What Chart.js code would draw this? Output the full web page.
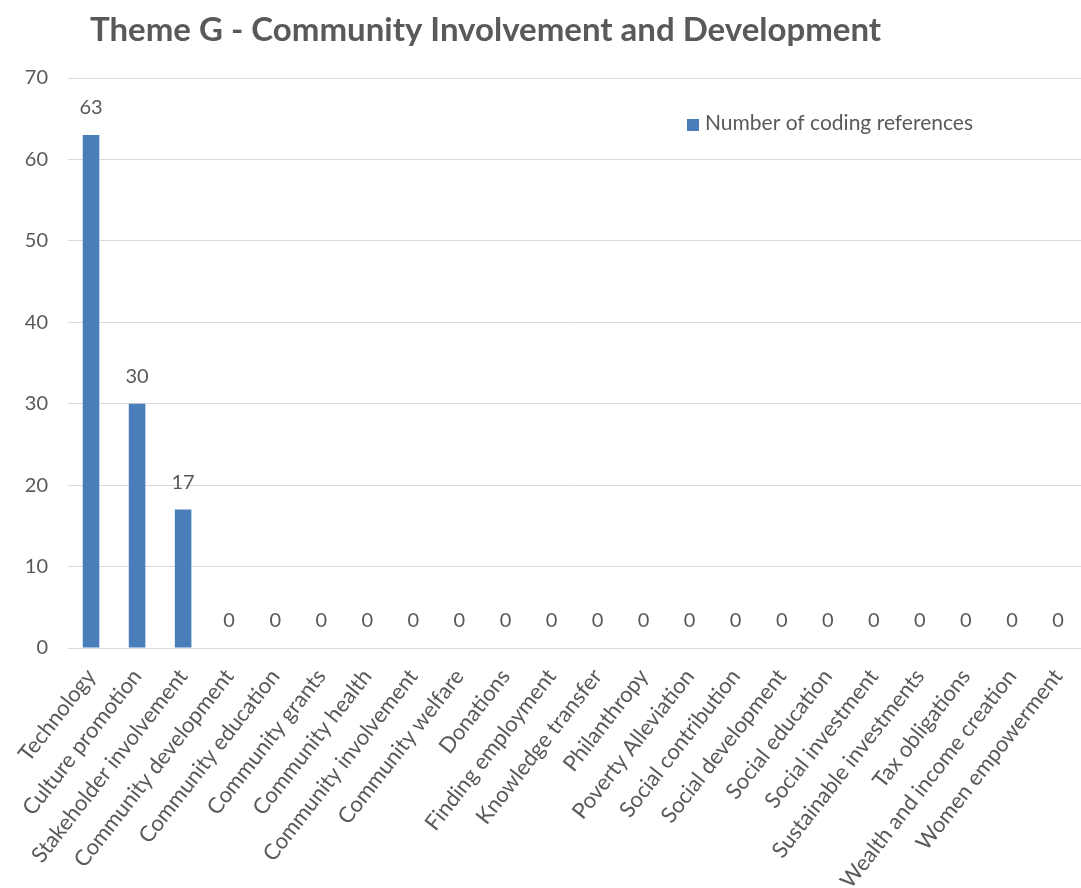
<!DOCTYPE html>
<html>
<head>
<meta charset="utf-8">
<title>Theme G - Community Involvement and Development</title>
<script src="https://cdn.jsdelivr.net/npm/chart.js@4/dist/chart.umd.min.js"></script>
<style>
  html, body { margin: 0; padding: 0; background: #fff; }
  #wrap { width: 1081px; height: 888px; position: relative; }
</style>
</head>
<body>
<div id="wrap"><canvas id="themeChart"></canvas></div>
<script>
const chartTitle = 'Theme G - Community Involvement and Development';
const seriesName = 'Number of coding references';
const categories = [
    'Technology', 'Culture promotion', 'Stakeholder involvement', 'Community development',
    'Community education', 'Community grants', 'Community health', 'Community involvement',
    'Community welfare', 'Donations', 'Finding employment', 'Knowledge transfer',
    'Philanthropy', 'Poverty Alleviation', 'Social contribution', 'Social development',
    'Social education', 'Social investment', 'Sustainable investments', 'Tax obligations',
    'Wealth and income creation', 'Women empowerment'
];
const codingRefs = [63, 30, 17, 0, 0, 0, 0, 0, 0, 0, 0, 0, 0, 0, 0, 0, 0, 0, 0, 0, 0, 0];
const yTicks = [0, 10, 20, 30, 40, 50, 60, 70];

const textGray = '#595959';
const barBlue = '#4a7ebb';
const fontFamily = 'Lato, "Open Sans", sans-serif';

// title, legend and value labels drawn on the canvas
const decorations = {
    id: 'decorations',
    afterDatasetsDraw(chart) {
        const ctx = chart.ctx;
        const meta = chart.getDatasetMeta(0);
        ctx.save();
        ctx.fillStyle = textGray;
        ctx.font = '20px ' + fontFamily;
        ctx.textAlign = 'center';
        ctx.textBaseline = 'alphabetic';
        meta.data.forEach((bar, i) => {
            ctx.fillText(String(codingRefs[i]), bar.x, bar.y - 21);
        });
        ctx.restore();
    },
    afterDraw(chart) {
        const ctx = chart.ctx;
        const area = chart.chartArea;
        ctx.save();
        // title
        ctx.fillStyle = textGray;
        ctx.font = 'bold 33px ' + fontFamily;
        ctx.textAlign = 'left';
        ctx.textBaseline = 'middle';
        ctx.fillText(chartTitle, 90, 30);
        // legend
        const lx = area.left + 619;
        const ly = area.top + 45;
        ctx.fillStyle = barBlue;
        ctx.fillRect(lx, ly - 4, 12, 12);
        ctx.fillStyle = textGray;
        ctx.font = '21px ' + fontFamily;
        ctx.fillText(seriesName, lx + 18, ly);
        ctx.restore();
    }
};

const ctx = document.getElementById('themeChart').getContext('2d');
new Chart(ctx, {
    type: 'bar',
    data: {
        labels: categories,
        datasets: [{
            label: seriesName,
            data: codingRefs,
            backgroundColor: barBlue,
            barPercentage: 0.36,
            categoryPercentage: 1
        }]
    },
    options: {
        responsive: true,
        maintainAspectRatio: false,
        animation: false,
        layout: { padding: { top: 78, left: 0, right: 0, bottom: 0 } },
        plugins: {
            legend: { display: false },
            title: { display: false },
            tooltip: { enabled: false }
        },
        scales: {
            x: {
                grid: { display: false, drawTicks: false },
                border: { color: '#d9d9d9' },
                ticks: {
                    color: textGray,
                    font: { family: fontFamily, size: 22 },
                    minRotation: 52,
                    maxRotation: 52,
                    autoSkip: false,
                    padding: 16
                },
                afterFit(scale) {
                    scale.height = 240;
                    scale.paddingRight = 0;
                    scale.paddingLeft = 0;
                }
            },
            y: {
                min: 0,
                max: 70,
                grid: { color: '#d9d9d9', drawTicks: false },
                border: { display: false },
                afterBuildTicks(scale) { scale.ticks = yTicks.map(v => ({ value: v })); },
                ticks: {
                    color: textGray,
                    font: { family: fontFamily, size: 20 },
                    padding: 20
                },
                afterFit(scale) { scale.width = 68; }
            }
        }
    },
    plugins: [decorations]
});
</script>
</body>
</html>
